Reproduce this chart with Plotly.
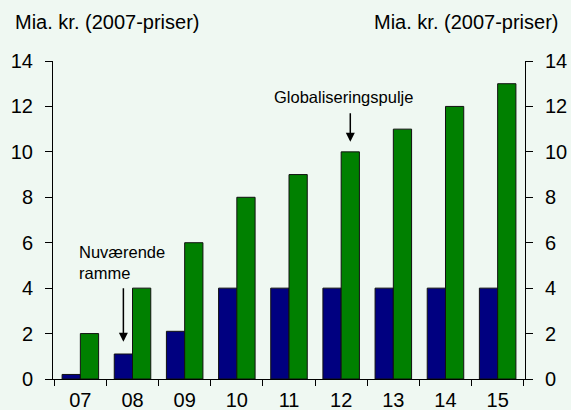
import plotly.graph_objects as go

categories = ["07", "08", "09", "10", "11", "12", "13", "14", "15"]
naervaerende = [0.2, 1.1, 2.1, 4, 4, 4, 4, 4, 4]
globalisering = [2, 4, 6, 8, 9, 10, 11, 12, 13]
y_ticks = [0, 2, 4, 6, 8, 10, 12, 14]

BG = "#eff8f2"
FONT = "Liberation Sans, Arial, sans-serif"

fig = go.Figure()
fig.add_trace(go.Bar(x=categories, y=naervaerende, marker=dict(color="#000080", line=dict(color="#111111", width=1)),
                     name="Nuværende ramme", hoverinfo="skip"))
fig.add_trace(go.Bar(x=categories, y=globalisering, marker=dict(color="#008000", line=dict(color="#111111", width=1)),
                     name="Globaliseringspulje", hoverinfo="skip"))
fig.add_trace(go.Scatter(x=categories, y=globalisering, yaxis="y2", mode="markers",
                         marker=dict(opacity=0), showlegend=False, hoverinfo="skip"))

axis_common = dict(range=[0, 14], tickvals=y_ticks, ticks="outside", ticklen=7, tickwidth=1,
                   tickcolor="black", showline=True, linecolor="black", linewidth=1,
                   showgrid=False, zeroline=False, automargin=False, ticklabelstandoff=8,
                   tickfont=dict(size=20, color="black", family=FONT))

fig.update_layout(
    width=571, height=410,
    margin=dict(l=53, r=46, t=61, b=31, pad=0),
    paper_bgcolor=BG, plot_bgcolor=BG,
    barmode="group", bargap=0.3, bargroupgap=0,
    showlegend=False,
    font=dict(family=FONT, color="black"),
    xaxis=dict(type="category", ticks="outside", tickson="boundaries", ticklen=6, tickwidth=1,
               tickcolor="black", showline=True, linecolor="black", linewidth=1, showgrid=False,
               automargin=False, ticklabelstandoff=3,
               tickfont=dict(size=20, color="black", family=FONT)),
    yaxis=dict(side="left", **axis_common),
    yaxis2=dict(side="right", overlaying="y", **axis_common),
)

fig.add_annotation(text="Mia. kr. (2007-priser)", xref="paper", yref="paper", x=-0.0854, y=1.0,
                   yshift=39, xanchor="left", yanchor="middle", showarrow=False,
                   font=dict(size=20, color="black", family=FONT))
fig.add_annotation(text="Mia. kr. (2007-priser)", xref="paper", yref="paper", x=1.076, y=1.0,
                   yshift=39, xanchor="right", yanchor="middle", showarrow=False,
                   font=dict(size=20, color="black", family=FONT))

# labels
fig.add_annotation(text="Globaliseringspulje", x=5.049, y=12.42, xref="x", yref="y",
                   showarrow=False, xanchor="center", yanchor="middle",
                   font=dict(size=16.5, color="black", family=FONT))
fig.add_annotation(text="Nuværende<br>ramme", x=-0.061, y=5.15, xref="x", yref="y",
                   showarrow=False, xanchor="left", yanchor="middle", align="left",
                   font=dict(size=16.5, color="black", family=FONT))
# arrows
fig.add_annotation(text="", x=5.175, y=10.44, xref="x", yref="y",
                   showarrow=True, ax=0, ay=-30, arrowhead=2, arrowsize=1.2, arrowwidth=1.5,
                   arrowcolor="black")
fig.add_annotation(text="", x=0.825, y=1.64, xref="x", yref="y",
                   showarrow=True, ax=0, ay=-55, arrowhead=2, arrowsize=1.2, arrowwidth=1.5,
                   arrowcolor="black")

fig.write_html("out.html", config={"displayModeBar": False, "staticPlot": True},
               post_script="document.body.style.margin='0';document.body.style.background='%s';" % BG)
